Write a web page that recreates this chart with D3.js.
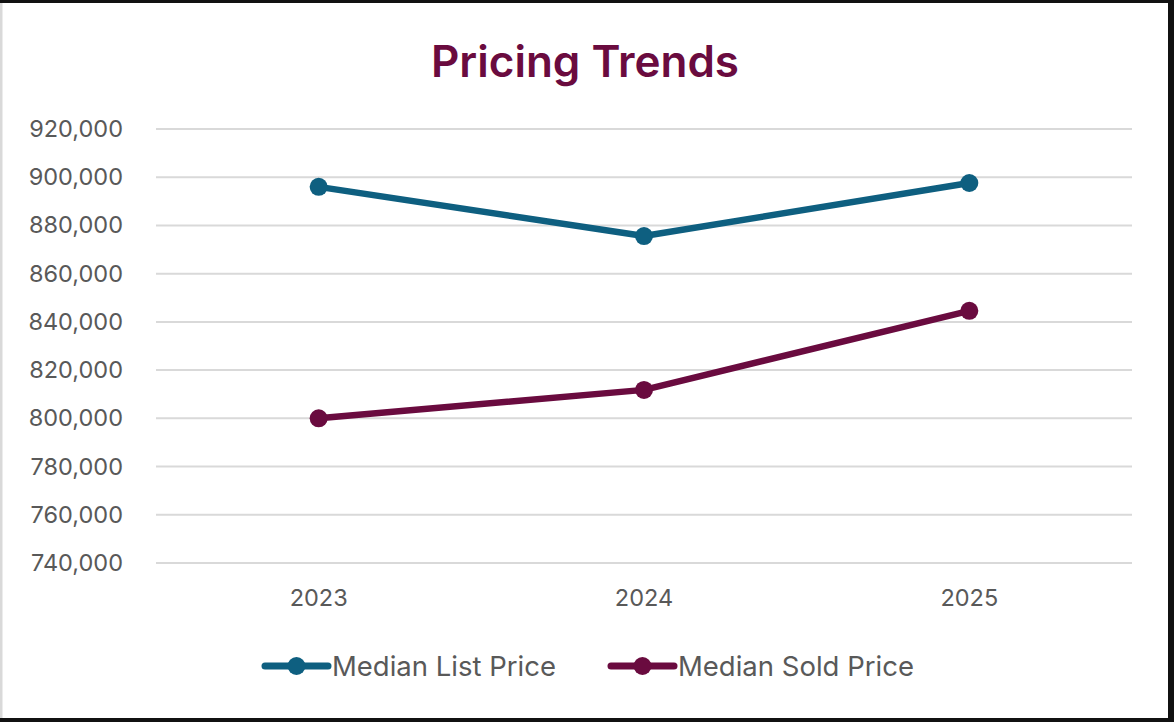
<!DOCTYPE html>
<html>
<head>
<meta charset="utf-8">
<script src="https://cdn.jsdelivr.net/npm/d3@7"></script>
<style>
  body { margin: 0; background: #fff; }
  text { font-family: Inter, "Noto Sans", sans-serif; }
</style>
</head>
<body>
<div id="chart"></div>
<script>
var years = ['2023', '2024', '2025']
var listPrice = [896000, 875600, 897600]
var soldPrice = [800000, 811800, 844600]
var yTicks = [740000, 760000, 780000, 800000, 820000, 840000, 860000, 880000, 900000, 920000]
var seriesNames = ['Median List Price', 'Median Sold Price']
var seriesColors = ['#0e5f80', '#6a0b3f']

var width = 1174
var height = 722
var margin = { top: 129, bottom: 159, left: 156, right: 42 }
var innerWidth = width - margin.left - margin.right
var innerHeight = height - margin.top - margin.bottom

var svg = d3.select('#chart').append('svg').attr('width', width).attr('height', height)

// 外框
svg.append('rect').attr('x', 0).attr('y', 0).attr('width', width).attr('height', height).attr('fill', '#fff')
svg.append('line').attr('x1', 1).attr('x2', 1).attr('y1', 0).attr('y2', height).attr('stroke', '#d9d9d9').attr('stroke-width', 3)
svg.append('line').attr('x1', 0).attr('x2', width).attr('y1', 1.5).attr('y2', 1.5).attr('stroke', '#111').attr('stroke-width', 3)
svg.append('line').attr('x1', width - 3).attr('x2', width - 3).attr('y1', 0).attr('y2', height).attr('stroke', '#111').attr('stroke-width', 6)
svg.append('line').attr('x1', 0).attr('x2', width).attr('y1', height - 2).attr('y2', height - 2).attr('stroke', '#111').attr('stroke-width', 4)

svg.append('text').attr('x', 585).attr('y', 77).attr('text-anchor', 'middle')
    .attr('font-size', 44).attr('font-weight', 600).attr('fill', '#6a0b3f').text('Pricing Trends')

const g = svg.append('g').attr('transform', `translate(${margin.left},${margin.top})`)

var xScale = d3.scaleBand().domain(years).range([0, innerWidth])
var yScale = d3.scaleLinear().domain([740000, 920000]).range([innerHeight, 0])

// 网格线
g.append('g').selectAll('line').data(yTicks).join('line')
    .attr('x1', 0).attr('x2', innerWidth)
    .attr('y1', d => yScale(d)).attr('y2', d => yScale(d))
    .attr('stroke', '#d9d9d9').attr('stroke-width', 2)

var yAxis = d3.axisLeft(yScale).tickValues(yTicks).tickFormat(d3.format(',')).tickSize(0).tickPadding(33)
g.append('g').call(yAxis)
    .call(g => g.select('.domain').remove())
    .call(g => g.selectAll('text').attr('font-size', 23.5).attr('fill', '#595959').attr('font-family', 'Inter, "Noto Sans", sans-serif'))

var xAxis = d3.axisBottom(xScale).tickSize(0).tickPadding(26)
g.append('g').attr('transform', `translate(0,${innerHeight})`).call(xAxis)
    .call(g => g.select('.domain').remove())
    .call(g => g.selectAll('text').attr('font-size', 23.5).attr('fill', '#595959').attr('font-family', 'Inter, "Noto Sans", sans-serif'))

var allSeries = [listPrice, soldPrice]
var line = d3.line().x((d, i) => xScale(years[i]) + xScale.bandwidth() / 2).y(d => yScale(d))

allSeries.forEach((s, k) => {
    g.append('path').datum(s).attr('d', line).attr('fill', 'none')
        .attr('stroke', seriesColors[k]).attr('stroke-width', 6.5).attr('stroke-linejoin', 'round').attr('stroke-linecap', 'round')
    g.append('g').selectAll('circle').data(s).join('circle')
        .attr('cx', (d, i) => xScale(years[i]) + xScale.bandwidth() / 2)
        .attr('cy', d => yScale(d)).attr('r', 9).attr('fill', seriesColors[k])
})

// 图例
var legendX = [265, 611]
var legend = svg.append('g').attr('transform', `translate(0,${666})`)
seriesNames.forEach((name, k) => {
    var lg = legend.append('g').attr('transform', `translate(${legendX[k]},0)`)
    lg.append('line').attr('x1', 0).attr('x2', 63).attr('y1', 0).attr('y2', 0)
        .attr('stroke', seriesColors[k]).attr('stroke-width', 7).attr('stroke-linecap', 'round')
    lg.append('circle').attr('cx', 31.5).attr('cy', 0).attr('r', 9).attr('fill', seriesColors[k])
    lg.append('text').attr('x', 67).attr('y', 10).attr('font-size', 27.5).attr('fill', '#595959').text(name)
})
</script>
</body>
</html>
